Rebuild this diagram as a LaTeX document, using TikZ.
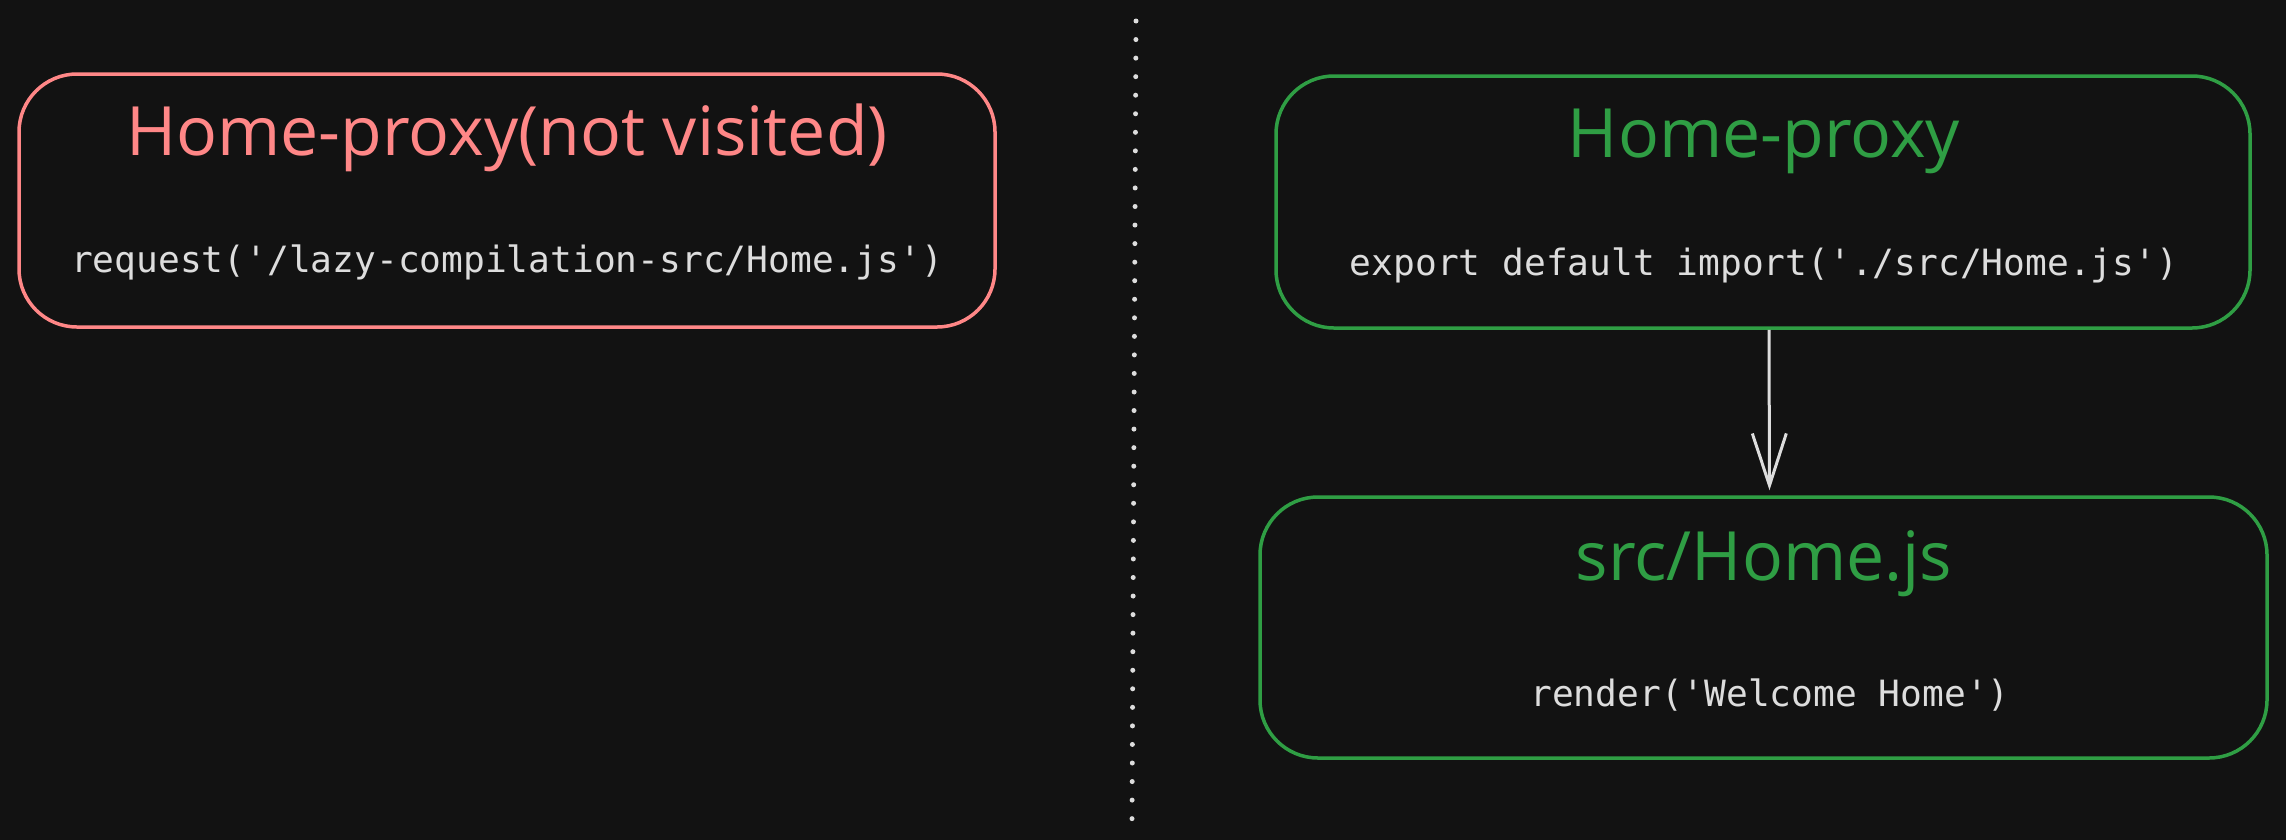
\documentclass[tikz,border=0pt]{standalone}
\usepackage{fontspec}
\setmainfont{Open Sans}
\newfontfamily\codefont{DejaVu Sans Mono}
\usetikzlibrary{arrows.meta}
\definecolor{bg}{HTML}{121212}
\definecolor{redc}{HTML}{FF8787}
\definecolor{greenc}{HTML}{2F9E44}
\definecolor{codec}{HTML}{DDDDDD}
\begin{document}
\begin{tikzpicture}[x=1pt,y=-1pt,
  box/.style={draw, line width=3.5pt, rounded corners=58pt, inner sep=0pt},
  title/.style={anchor=base, font=\fontsize{68}{80}\selectfont, inner sep=0pt},
  code/.style={anchor=base, text=codec, font=\codefont\fontsize{36.2}{44}\selectfont, inner sep=0pt},
  conn/.style={draw=codec, line width=3pt, -{Straight Barb[length=52pt,width=34pt,line width=3pt]}}]
\useasboundingbox (0,0) rectangle (2286,839);
\fill[bg] (-10,-10) rectangle (2296,849);
% divider
\coordinate (dtop) at (1136,21);
\coordinate (dbot) at (1132,819);
\draw[codec, line width=5pt, line cap=round, dash pattern=on 0pt off 18.55pt] (dtop) -- (dbot);
% left box
\node[box, draw=redc, minimum width=976pt, minimum height=253pt] (left) at (507,200.5) {};
\node[title, text=redc] (lefttitle) at (507,155) {Home-proxy(not visited)};
\node[code] (leftcode) at (507,272) {request('/lazy-compilation-src/Home.js')};
% right top box
\node[box, draw=greenc, minimum width=974pt, minimum height=252pt] (proxy) at (1763,202) {};
\node[title, text=greenc] (proxytitle) at (1764,157) {Home-proxy};
\node[code] (proxycode) at (1764,275) {export default import('./src/Home.js')};
% bottom box
\node[box, draw=greenc, minimum width=1007pt, minimum height=261pt] (src) at (1763.5,627.5) {};
\node[title, text=greenc] (srctitle) at (1764,580) {src/Home.js};
\node[code] (srccode) at (1770,706) {render('Welcome Home')};
% arrow
\draw[conn, shorten >=5pt] ([xshift=6pt]proxy.south) -- ([xshift=6pt]src.north);
\end{tikzpicture}
\end{document}
